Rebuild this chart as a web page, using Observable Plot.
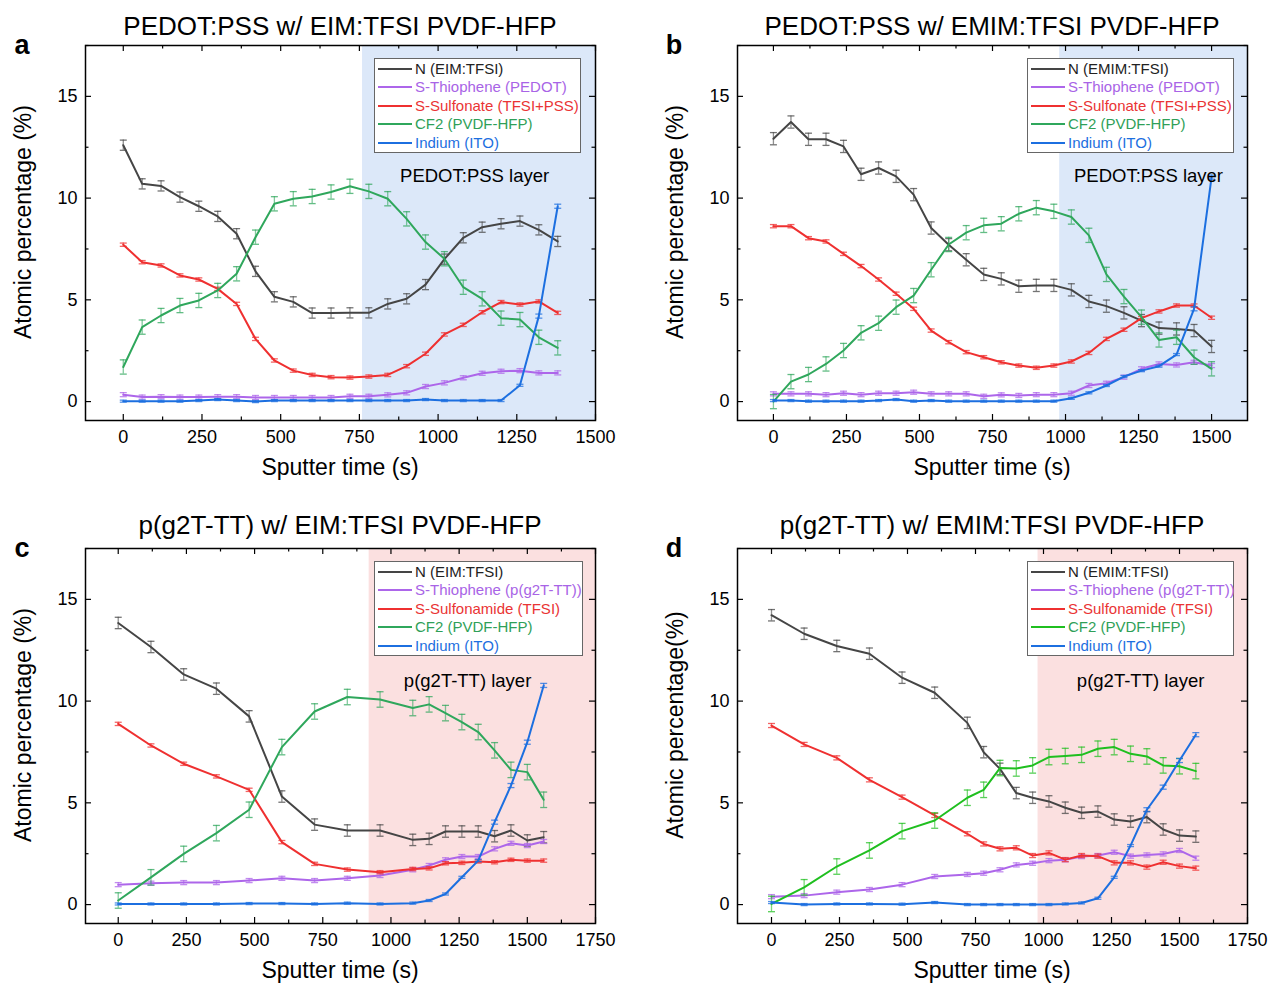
<!DOCTYPE html>
<html><head><meta charset="utf-8">
<script src="https://cdn.jsdelivr.net/npm/d3@7"></script>
<script src="https://cdn.jsdelivr.net/npm/@observablehq/plot@0.6"></script>
<style>
body{margin:0;background:#fff;font-family:"Liberation Sans",Arial,sans-serif;color:#000;}
#root{position:relative;width:1271px;height:983px;overflow:hidden;background:#fff;}
.panel{position:absolute;width:652px;height:500px;}
.panel svg{position:absolute;left:0;top:0;}
.t{position:absolute;white-space:nowrap;line-height:1;transform:translate(-50%,-50%);}
.title{font-size:26px;}
.letter{font-size:27px;font-weight:bold;}
.ylab{font-size:23px;transform:translate(-50%,-50%) rotate(-90deg);}
.xlab{font-size:23px;}
.legend{position:absolute;background:#fff;border:1px solid #666;box-sizing:border-box;}
.legend .row{position:absolute;left:0;height:18px;width:100%;}
.legend .sw{position:absolute;left:3px;width:34px;top:8px;height:0;border-top:2px solid;}
.legend .lt{position:absolute;left:40px;top:0;font-size:15px;line-height:18px;white-space:nowrap;}
</style>
</head><body><div id="root"></div>
<script>
// ---------- DATA ----------
const seriesKeys = ["N", "thio", "sulf", "cf2", "ind"];

// Panel a
const timeA = [0,60,120,180,240,300,360,420,480,540,600,660,720,780,840,900,960,1020,1080,1140,1200,1260,1320,1380];
const nA    = [12.6,10.7,10.6,10.05,9.6,9.1,8.25,6.4,5.15,4.9,4.35,4.35,4.36,4.36,4.8,5.05,5.75,7.0,8.05,8.57,8.74,8.87,8.44,7.87];
const thioA = [0.34,0.22,0.24,0.22,0.22,0.24,0.24,0.2,0.2,0.2,0.2,0.2,0.26,0.26,0.33,0.43,0.74,0.92,1.17,1.39,1.49,1.52,1.41,1.41];
const sulfA = [7.71,6.85,6.69,6.2,6.0,5.54,4.8,3.08,2.02,1.52,1.31,1.2,1.18,1.23,1.31,1.74,2.35,3.3,3.77,4.39,4.89,4.77,4.92,4.36];
const cf2A  = [1.7,3.66,4.23,4.72,4.97,5.46,6.28,8.08,9.72,9.97,10.08,10.3,10.58,10.33,9.97,8.98,7.84,7.02,5.62,5.05,4.1,4.03,3.16,2.64];
const indA  = [0.02,0.02,0.02,0.02,0.05,0.1,0.05,0.0,0.05,0.05,0.05,0.05,0.05,0.05,0.05,0.05,0.1,0.05,0.05,0.05,0.05,0.8,4.2,9.6];
const errA  = [0.25,0.1,0.08,0.35,0.05];

// Panel b
const timeB = [0,60,120,180,240,300,360,420,480,540,600,660,720,780,840,900,960,1020,1080,1140,1200,1260,1320,1380,1440,1500];
const nB    = [12.92,13.74,12.89,12.89,12.54,11.17,11.48,11.07,10.17,8.53,7.71,6.97,6.25,6.03,5.67,5.71,5.71,5.49,4.92,4.69,4.36,3.98,3.61,3.57,3.49,2.71];
const thioB = [0.38,0.38,0.38,0.34,0.41,0.34,0.41,0.41,0.46,0.38,0.38,0.38,0.26,0.33,0.3,0.34,0.34,0.41,0.79,0.9,1.2,1.61,1.85,1.8,1.93,1.77];
const sulfB = [8.62,8.62,8.03,7.87,7.26,6.66,6.0,5.3,4.56,3.49,2.92,2.43,2.18,1.93,1.77,1.66,1.77,1.97,2.39,3.08,3.53,4.1,4.43,4.72,4.72,4.12];
const cf2B  = [0.0,0.98,1.33,1.85,2.51,3.38,3.85,4.64,5.21,6.48,7.72,8.3,8.66,8.74,9.23,9.53,9.35,9.07,8.17,6.25,5.16,4.15,3.03,3.16,2.18,1.61];
const indB  = [0.05,0.05,0.02,0.02,0.02,0.02,0.05,0.1,0.02,0.05,0.02,0.02,0.02,0.02,0.02,0.02,0.02,0.16,0.43,0.79,1.23,1.52,1.74,2.31,4.56,11.03];
const errB  = [0.3,0.1,0.08,0.35,0.05];

// Panel c
const timeC = [0,120,240,360,480,600,720,840,960,1080,1140,1200,1260,1320,1380,1440,1500,1560];
const nC    = [13.84,12.66,11.31,10.61,9.25,5.31,3.93,3.64,3.64,3.18,3.23,3.59,3.59,3.59,3.36,3.64,3.15,3.31];
const thioC = [0.98,1.05,1.08,1.08,1.18,1.29,1.18,1.29,1.43,1.71,1.92,2.2,2.36,2.36,2.74,3.01,2.9,3.1];
const sulfC = [8.88,7.82,6.92,6.3,5.64,3.07,2.0,1.72,1.59,1.75,1.78,2.03,2.05,2.12,2.08,2.2,2.16,2.16];
const cf2C  = [0.2,1.34,2.49,3.51,4.66,7.74,9.49,10.2,10.08,9.66,9.84,9.41,8.97,8.48,7.58,6.62,6.51,5.15];
const indC  = [0.03,0.03,0.03,0.03,0.05,0.05,0.03,0.07,0.03,0.07,0.2,0.52,1.34,2.16,4.05,5.85,7.98,10.77];
const errC  = [0.28,0.1,0.08,0.38,0.05];

// Panel d
const timeD = [0,120,240,360,480,600,720,780,840,900,960,1020,1080,1140,1200,1260,1320,1380,1440,1500,1560];
const nD    = [14.22,13.31,12.71,12.33,11.15,10.41,8.93,7.49,6.67,5.48,5.25,5.07,4.76,4.51,4.57,4.18,4.08,4.3,3.69,3.39,3.34];
const thioD = [0.39,0.44,0.61,0.74,0.98,1.38,1.48,1.54,1.71,1.95,2.03,2.16,2.2,2.36,2.41,2.57,2.38,2.44,2.49,2.66,2.28];
const sulfD = [8.8,7.87,7.21,6.13,5.28,4.38,3.48,2.98,2.74,2.79,2.41,2.54,2.21,2.41,2.38,2.05,2.05,1.84,2.08,1.89,1.79];
const cf2D  = [0.03,0.85,1.87,2.66,3.61,4.13,5.25,5.64,6.71,6.69,6.84,7.25,7.3,7.36,7.66,7.74,7.41,7.28,6.84,6.8,6.56];
const indD  = [0.1,0.0,0.03,0.03,0.02,0.1,0.0,0.0,0.0,0.0,0.0,0.0,0.03,0.08,0.31,1.34,2.9,4.66,5.77,7.08,8.35];
const errD  = [0.28,0.1,0.1,0.38,0.05];

// Ticks
const yMajor = [0,5,10,15];
const yMinor = [2.5,7.5,12.5,17.5];
const xMajorAB = [0,250,500,750,1000,1250,1500];
const xMinorAB = [125,375,625,875,1125,1375];
const xMajorCD = [0,250,500,750,1000,1250,1500,1750];
const xMinorCD = [125,375,625,875,1125,1375,1625];

// Text
const titles = ["PEDOT:PSS w/ EIM:TFSI PVDF-HFP","PEDOT:PSS w/ EMIM:TFSI PVDF-HFP","p(g2T-TT) w/ EIM:TFSI PVDF-HFP","p(g2T-TT) w/ EMIM:TFSI PVDF-HFP"];
const letters = ["a","b","c","d"];
const yLabels = ["Atomic percentage (%)","Atomic percentage (%)","Atomic percentage (%)","Atomic percentage(%)"];
const xLabel = "Sputter time (s)";
const legendA = ["N (EIM:TFSI)","S-Thiophene (PEDOT)","S-Sulfonate (TFSI+PSS)","CF2 (PVDF-HFP)","Indium (ITO)"];
const legendB = ["N (EMIM:TFSI)","S-Thiophene (PEDOT)","S-Sulfonate (TFSI+PSS)","CF2 (PVDF-HFP)","Indium (ITO)"];
const legendC = ["N (EIM:TFSI)","S-Thiophene (p(g2T-TT))","S-Sulfonamide (TFSI)","CF2 (PVDF-HFP)","Indium (ITO)"];
const legendD = ["N (EMIM:TFSI)","S-Thiophene (p(g2T-TT))","S-Sulfonamide (TFSI)","CF2 (PVDF-HFP)","Indium (ITO)"];
const layerNames = ["PEDOT:PSS layer","PEDOT:PSS layer","p(g2T-TT) layer","p(g2T-TT) layer"];
const layerStart = [760, 980, 920, 980];
const layerLabelPos = [[1116, 11.1],[1284, 11.1],[1281, 11.0],[1357, 11.0]];
const xDomains = [[-120,1500],[-123,1623],[-120,1750],[-125,1750]];
const yDomain = [-0.93, 17.5];

// Styles
const lineColors = ["#454545","#ad66ea","#ef3030","#2fa75c","#1c6fe0"];
const lineColorsD = ["#454545","#ad66ea","#ef3030","#1fbf1f","#1c6fe0"];
const textColors = ["#222222","#a864e6","#ea3434","#2f9f58","#1c6fe0"];
const shades = ["#dce8f9","#dce8f9","#fbe0e0","#fbe0e0"];

// ---------- DRAW ----------
const capSymbol = {draw(ctx, size){ const r = Math.sqrt(size/Math.PI); ctx.moveTo(-r,0); ctx.lineTo(r,0); }};
const W = 635, H = 490, ML = 85, MR = 40, MT = 45, MB = 70;
const FW = W - ML - MR, FH = H - MT - MB;

const panels = [
  {time: timeA, vals: [nA,thioA,sulfA,cf2A,indA], err: errA, legend: legendA, xMajor: xMajorAB, xMinor: xMinorAB, colors: lineColors, left: 0, top: 0},
  {time: timeB, vals: [nB,thioB,sulfB,cf2B,indB], err: errB, legend: legendB, xMajor: xMajorAB, xMinor: xMinorAB, colors: lineColors, left: 652, top: 0},
  {time: timeC, vals: [nC,thioC,sulfC,cf2C,indC], err: errC, legend: legendC, xMajor: xMajorCD, xMinor: xMinorCD, colors: lineColors, left: 0, top: 503},
  {time: timeD, vals: [nD,thioD,sulfD,cf2D,indD], err: errD, legend: legendD, xMajor: xMajorCD, xMinor: xMinorCD, colors: lineColorsD, left: 652, top: 503}
];
const legendBox = [{l:374,w:207},{l:375,w:207},{l:374,w:209},{l:375,w:207}];

const root = document.getElementById("root");
panels.forEach((p, k) => {
  const div = document.createElement("div");
  div.className = "panel";
  div.style.left = p.left + "px"; div.style.top = p.top + "px";
  root.appendChild(div);
  const xd = xDomains[k];
  const inX = v => v >= xd[0] && v <= xd[1];
  const marks = [
    Plot.rect([[layerStart[k], xd[1]]], {x1: d => d[0], x2: d => d[1], y1: () => yDomain[0], y2: () => yDomain[1], fill: shades[k]})
  ];
  seriesKeys.forEach((key, s) => {
    const rows = p.time.map((t, i) => ({t, v: p.vals[s][i], e: p.err[s] * (key === "ind" && p.vals[s][i] > 3 ? 2 : 1)}));
    const c = p.colors[s];
    marks.push(
      Plot.ruleX(rows, {x: "t", y1: d => d.v - d.e, y2: d => d.v + d.e, stroke: c, strokeOpacity: 0.6, strokeWidth: 1.3}),
      Plot.dot(rows, {x: "t", y: d => d.v + d.e, symbol: capSymbol, r: 3.5, stroke: c, strokeOpacity: 0.75, fill: "none", strokeWidth: 1.3}),
      Plot.dot(rows, {x: "t", y: d => d.v - d.e, symbol: capSymbol, r: 3.5, stroke: c, strokeOpacity: 0.75, fill: "none", strokeWidth: 1.3}),
      Plot.line(rows, {x: "t", y: "v", stroke: c, strokeWidth: 2})
    );
  });
  const xM = p.xMajor.filter(inX), xm = p.xMinor.filter(inX);
  marks.push(
    Plot.text([layerLabelPos[k]], {x: d => d[0], y: d => d[1], text: () => layerNames[k], fontSize: 18.5, fill: "#000"}),
    Plot.tickX(xM, {x: d => d, insetTop: FH - 6, stroke: "#000", strokeWidth: 1.2}),
    Plot.tickX(xM, {x: d => d, insetBottom: FH - 6, stroke: "#000", strokeWidth: 1.2}),
    Plot.tickX(xm, {x: d => d, insetTop: FH - 3.5, stroke: "#000", strokeWidth: 1.2}),
    Plot.tickX(xm, {x: d => d, insetBottom: FH - 3.5, stroke: "#000", strokeWidth: 1.2}),
    Plot.tickY(yMajor, {y: d => d, insetRight: FW - 6, stroke: "#000", strokeWidth: 1.2}),
    Plot.tickY(yMajor, {y: d => d, insetLeft: FW - 6, stroke: "#000", strokeWidth: 1.2}),
    Plot.tickY(yMinor, {y: d => d, insetRight: FW - 3.5, stroke: "#000", strokeWidth: 1.2}),
    Plot.tickY(yMinor, {y: d => d, insetLeft: FW - 3.5, stroke: "#000", strokeWidth: 1.2}),
    Plot.axisX(xM, {anchor: "bottom", tickSize: 0, tickPadding: 10, fontSize: 18, label: null, tickFormat: d => String(d)}),
    Plot.axisY(yMajor, {anchor: "left", tickSize: 0, tickPadding: 8, fontSize: 18, label: null, tickFormat: d => String(d)}),
    Plot.frame({stroke: "#000", strokeWidth: 1.5})
  );
  const svg = Plot.plot({
    width: W, height: H, marginLeft: ML, marginRight: MR, marginTop: MT, marginBottom: MB,
    x: {domain: xd}, y: {domain: yDomain},
    style: {fontFamily: "'Liberation Sans', Arial, sans-serif", background: "transparent", color: "#000", overflow: "visible"},
    marks
  });
  div.appendChild(svg);

  const addText = (cls, txt, x, y) => {
    const t = document.createElement("div");
    t.className = "t " + cls; t.textContent = txt;
    t.style.left = x + "px"; t.style.top = y + "px";
    div.appendChild(t);
  };
  addText("title", titles[k], ML + FW / 2, k < 2 ? 26 : 22);
  addText("letter", letters[k], 22, 45);
  addText("ylab", yLabels[k], 23, 222);
  addText("xlab", xLabel, ML + FW / 2, 467);

  const lb = legendBox[k];
  const box = document.createElement("div");
  box.className = "legend";
  box.style.left = lb.l + "px"; box.style.top = "58px";
  box.style.width = lb.w + "px"; box.style.height = "95px";
  p.legend.forEach((name, s) => {
    const row = document.createElement("div");
    row.className = "row"; row.style.top = (1 + s * 18.4) + "px";
    const sw = document.createElement("div");
    sw.className = "sw"; sw.style.borderTopColor = p.colors[s];
    const lt = document.createElement("div");
    lt.className = "lt"; lt.textContent = name; lt.style.color = textColors[s];
    row.appendChild(sw); row.appendChild(lt); box.appendChild(row);
  });
  div.appendChild(box);
});
</script></body></html>
